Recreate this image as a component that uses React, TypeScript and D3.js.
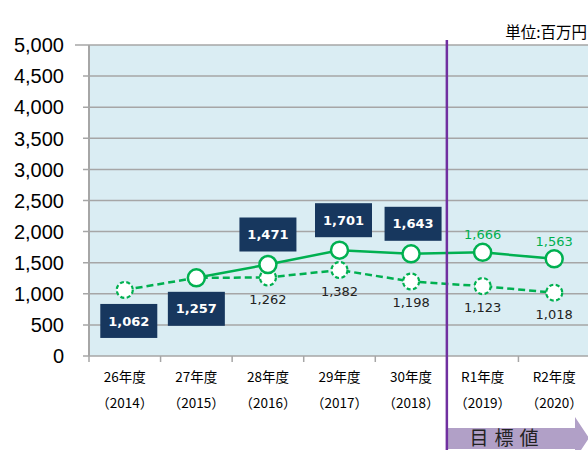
import React from 'react';
import * as d3 from 'd3';

// chart data
const categories = ['26年度', '27年度', '28年度', '29年度', '30年度', 'R1年度', 'R2年度'];
const years = ['（2014）', '（2015）', '（2016）', '（2017）', '（2018）', '（2019）', '（2020）'];
const solidValues: (number | null)[] = [null, 1257, 1471, 1701, 1643, 1666, 1563];
const dashedValues = [1062, 1257, 1262, 1382, 1198, 1123, 1018];
const boxLabels = [1062, 1257, 1471, 1701, 1643];
const boxSide = ['below', 'below', 'above', 'above', 'above'];
const targetLabels = [1666, 1563];
const yTicks = [0, 500, 1000, 1500, 2000, 2500, 3000, 3500, 4000, 4500, 5000];

const W = 588;
const H = 450;
const plotLeft = 89;
const plotRight = 590;
const plotTop = 45;
const plotBottom = 356;

const GREEN = '#00b050';
const NAVY = '#17375e';
const PURPLE = '#7030a0';

const App = () => {
  const x = d3.scaleBand().domain(categories).range([plotLeft, plotRight]);
  const y = d3.scaleLinear().domain([0, 5000]).range([plotBottom, plotTop]);
  const cx = (i: number) => (x(categories[i]) as number) + x.bandwidth() / 2;
  const fmt = d3.format(',');

  const line = d3.line<[number, number | null]>()
    .defined(d => d[1] != null)
    .x(d => cx(d[0]))
    .y(d => y(d[1] as number));

  const solidPath = line(solidValues.map((v, i) => [i, v]));
  const dashedPath = line(dashedValues.map((v, i) => [i, v]));

  const targetStart = x(categories[5]) as number;

  return (
    <svg width={W} height={H} style={{ position: 'absolute', left: 0, top: 0 }}>
      {/* plot background */}
      <rect x={plotLeft} y={plotTop} width={plotRight - plotLeft} height={plotBottom - plotTop} fill="#daedf3" />

      {/* gridlines + y ticks */}
      {yTicks.map(t => (
        <g key={t}>
          <line x1={t === 5000 ? 75 : 83} x2={plotRight} y1={y(t)} y2={y(t)} stroke="#a6a6a6" strokeWidth={1.5} />
          <text x={64} y={y(t)} dy="0.36em" textAnchor="end" fontFamily="'Liberation Sans', Arial" fontSize={20} fill="#000">
            {fmt(t)}
          </text>
        </g>
      ))}
      <line x1={plotLeft} x2={plotLeft} y1={plotTop} y2={plotBottom} stroke="#a6a6a6" strokeWidth={2} />

      {/* x ticks + labels */}
      {categories.map((c, i) => (
        <g key={c}>
          <line x1={x(c) as number} x2={x(c) as number} y1={plotBottom} y2={plotBottom + 6} stroke="#a6a6a6" strokeWidth={1.5} />
          <text x={cx(i)} y={382} textAnchor="middle" fontFamily="'Noto Sans CJK JP'" fontSize={13.5} fill="#000">{c}</text>
          <text x={cx(i)} y={408} textAnchor="middle" fontFamily="'Noto Sans CJK JP'" fontSize={13.5} fill="#000">{years[i]}</text>
        </g>
      ))}

      {/* unit */}
      <text x={587} y={38} textAnchor="end" fontFamily="'Noto Sans CJK JP'" fontSize={15.5} fill="#000">単位:百万円</text>

      {/* lines */}
      <path d={dashedPath || ''} fill="none" stroke={GREEN} strokeWidth={2.5} strokeDasharray="7,4" />
      <path d={solidPath || ''} fill="none" stroke={GREEN} strokeWidth={2.5} />

      {dashedValues.map((v, i) => (
        <circle key={'d' + i} cx={cx(i)} cy={y(v)} r={8} fill="#fff" stroke={GREEN} strokeWidth={2.2} strokeDasharray="4,2.5" />
      ))}
      {solidValues.map((v, i) => v == null ? null : (
        <circle key={'s' + i} cx={cx(i)} cy={y(v)} r={8.5} fill="#fff" stroke={GREEN} strokeWidth={2.5} />
      ))}

      {/* dashed series labels */}
      {dashedValues.map((v, i) => i < 2 ? null : (
        <text key={'dl' + i} x={cx(i)} y={y(v) + 26} textAnchor="middle" fontFamily="'DejaVu Sans', Verdana" fontSize={13} fill="#222">
          {fmt(v)}
        </text>
      ))}

      {/* boxed actual labels */}
      {boxLabels.map((v, i) => {
        const bx = cx(i) + (i === 3 ? 4 : i === 4 ? 2 : i === 0 ? 4 : 0);
        const by = boxSide[i] === 'above' ? y(v) - 30 : y(v) + 31;
        return (
          <g key={'b' + i}>
            <rect x={bx - 28.5} y={by - 17} width={57} height={34} fill={NAVY} />
            <text x={bx} y={by} dy="0.36em" textAnchor="middle" fontFamily="'DejaVu Sans', Verdana" fontWeight="bold" fontSize={13} fill="#fff">
              {fmt(v)}
            </text>
          </g>
        );
      })}

      {/* target labels */}
      {targetLabels.map((v, i) => (
        <text key={'t' + i} x={cx(5 + i)} y={y(v) - 13} textAnchor="middle" fontFamily="'DejaVu Sans', Verdana" fontSize={13} fill={GREEN}>
          {fmt(v)}
        </text>
      ))}

      {/* target arrow */}
      <path d={`M${targetStart},428 L575,428 L575,417 L589,438 L575,459 L575,449 L${targetStart},449 Z`} fill="#b1a0c7" />
      <text x={507} y={445} textAnchor="middle" fontFamily="'Noto Sans CJK JP'" fontSize={19} fill="#222" letterSpacing={6}>目標値</text>

      {/* divider */}
      <line x1={targetStart} x2={targetStart} y1={40} y2={H} stroke={PURPLE} strokeWidth={2.5} />
    </svg>
  );
};

export default App;
